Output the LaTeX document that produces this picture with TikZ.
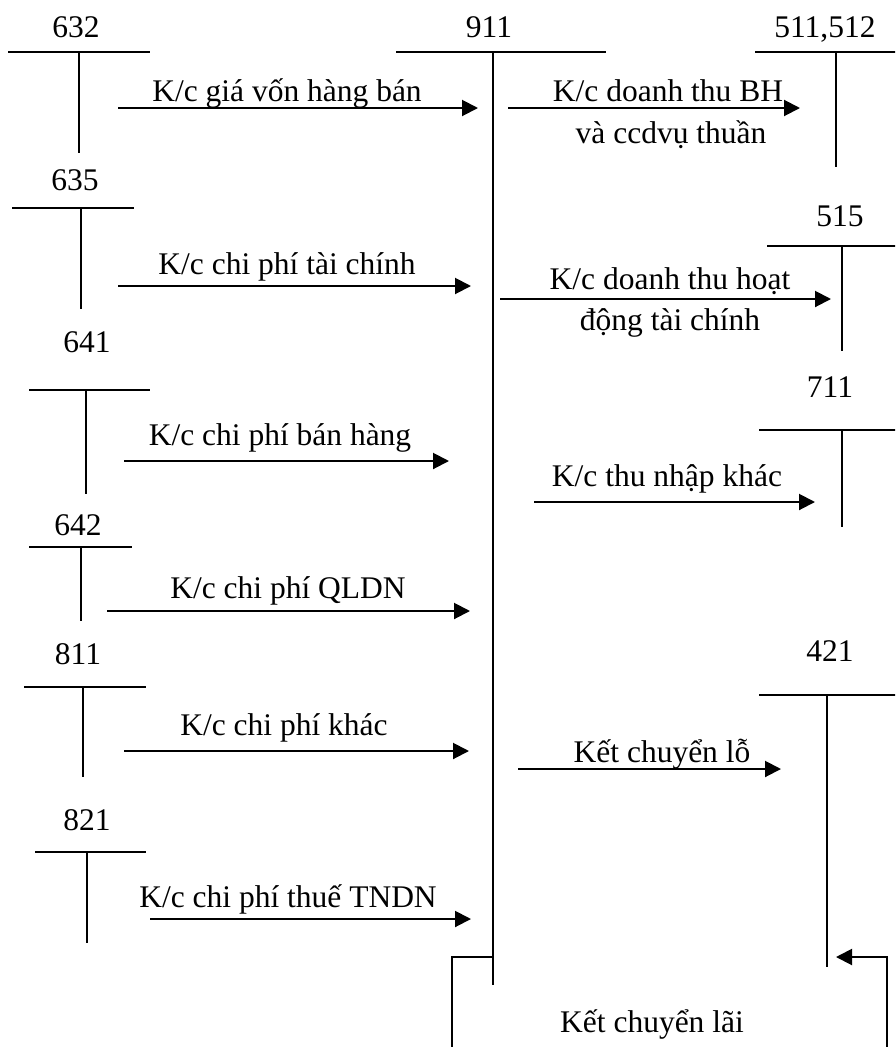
\documentclass[tikz,border=0pt]{standalone}
\usepackage{fontspec}
\setmainfont{Liberation Serif}
\usetikzlibrary{arrows.meta}
\newcommand\TAcc[9]{%
  \node[txt] (#1l) at (#3,#4) {#2};
  \coordinate (#1a) at (#5,#7);
  \coordinate (#1b) at (#6,#7);
  \coordinate (#1t) at (#8,#7);
  \coordinate (#1e) at (#8,#9);
  \draw[ln] (#1a) -- (#1b);
  \draw[ln] (#1t) -- (#1e);}
\begin{document}
\begin{tikzpicture}[x=1pt,y=-1pt,
  ln/.style={line width=2pt},
  arr/.style={line width=2pt,-{Triangle[length=16pt,width=16pt]}},
  txt/.style={anchor=base,inner sep=0pt,font=\fontsize{31.5}{36}\selectfont}]
\useasboundingbox (0,0) rectangle (895,1047);
\clip (0,0) rectangle (895,1047);
% T accounts
\TAcc{a632}{632}{76}{37}{8}{150}{52}{79}{153}
\TAcc{a635}{635}{75}{190}{12}{134}{208}{81}{309}
\TAcc{a641}{641}{87}{352}{29}{150}{390}{86}{494}
\TAcc{a642}{642}{78}{535}{29}{132}{547}{81}{621}
\TAcc{a811}{811}{78}{664}{24}{146}{687}{83}{777}
\TAcc{a821}{821}{87}{830}{35}{146}{852}{87}{943}
\TAcc{a911}{911}{489}{37}{396}{606}{52}{493}{985}
\TAcc{a511}{511,512}{825}{37}{755}{900}{52}{836}{167}
\TAcc{a515}{515}{840}{226}{767}{900}{246}{842}{351}
\TAcc{a711}{711}{830}{397}{759}{900}{430}{842}{527}
\TAcc{a421}{421}{830}{661}{759}{900}{695}{827}{967}
% arrow endpoints
\coordinate (p632) at (118,108);  \coordinate (q632) at (478,108);
\coordinate (p635) at (118,286);  \coordinate (q635) at (471,286);
\coordinate (p641) at (124,461);  \coordinate (q641) at (449,461);
\coordinate (p642) at (107,611);  \coordinate (q642) at (470,611);
\coordinate (p811) at (124,751);  \coordinate (q811) at (469,751);
\coordinate (p821) at (150,919);  \coordinate (q821) at (471,919);
\coordinate (p511) at (508,108);  \coordinate (q511) at (800,108);
\coordinate (p515) at (500,299);  \coordinate (q515) at (831,299);
\coordinate (p711) at (534,502);  \coordinate (q711) at (815,502);
\coordinate (p421) at (518,769);  \coordinate (q421) at (781,769);
\coordinate (lai0) at (493,957);
\coordinate (laiL) at (452,1070);
\coordinate (laiR) at (887,957);
\coordinate (lai1) at (836,957);
% arrows
\draw[arr] (p632) -- (q632);
\draw[arr] (p635) -- (q635);
\draw[arr] (p641) -- (q641);
\draw[arr] (p642) -- (q642);
\draw[arr] (p811) -- (q811);
\draw[arr] (p821) -- (q821);
\draw[arr] (p511) -- (q511);
\draw[arr] (p515) -- (q515);
\draw[arr] (p711) -- (q711);
\draw[arr] (p421) -- (q421);
\draw[arr] (lai0) -| (laiL) -| (laiR) -- (lai1);
% labels
\node[txt] (t632) at (287,101) {K/c giá vốn hàng bán};
\node[txt] (t635) at (287,274) {K/c chi phí tài chính};
\node[txt] (t641) at (280,445) {K/c chi phí bán hàng};
\node[txt] (t642) at (288,598) {K/c chi phí QLDN};
\node[txt] (t811) at (284,735) {K/c chi phí khác};
\node[txt] (t821) at (288,907) {K/c chi phí thuế TNDN};
\node[txt] (t511a) at (668,101) {K/c doanh thu BH};
\node[txt] (t511b) at (671,143) {và ccdvụ thuần};
\node[txt] (t515a) at (670,289) {K/c doanh thu hoạt};
\node[txt] (t515b) at (670,330) {động tài chính};
\node[txt] (t711) at (667,486) {K/c thu nhập khác};
\node[txt] (t421) at (662,762) {Kết chuyển lỗ};
\node[txt] (tlai) at (652,1032) {Kết chuyển lãi};
\end{tikzpicture}
\end{document}
